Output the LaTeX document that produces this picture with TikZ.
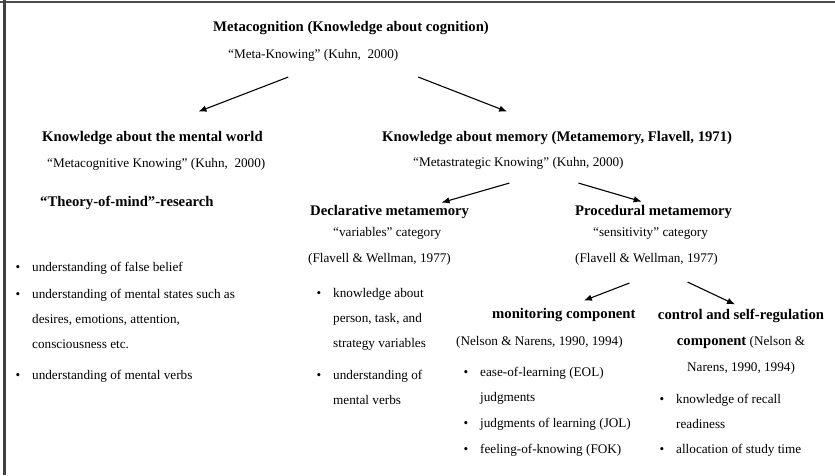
\documentclass[tikz,border=0pt]{standalone}
\usepackage{fontspec}
\setmainfont{Liberation Serif}
\usetikzlibrary{arrows.meta}
\newcommand{\itembul}{\llap{\textbullet\hspace{12pt}}}
\tikzset{
 head/.style={font=\fontsize{14.7}{18}\selectfont\bfseries,anchor=base west,inner sep=0pt},
 txt/.style={font=\fontsize{13.2}{25}\selectfont,anchor=base west,inner sep=0pt,align=left},
 arr/.style={-{Latex[length=8pt,width=6.5pt]},line width=1.1pt}
}
\begin{document}
\begin{tikzpicture}[x=1pt,y=-1pt]
 \useasboundingbox (0,0) rectangle (835,475);
 \draw[line width=2pt,black!70](0,1.7)--(835,1.7);
 \draw[line width=2.5pt,black!75](4.7,0)--(4.7,475);
 \node[head](meta) at (213,31) {Metacognition (Knowledge about cognition)};
 \node[txt](metaknow) at (228,58) {“Meta-Knowing” (Kuhn,~~2000)};
 \node[head](mental) at (42,141) {Knowledge about the mental world};
 \node[txt](metacog) at (47,167) {“Metacognitive Knowing” (Kuhn,~~2000)};
 \node[head](theory) at (40,206) {“Theory-of-mind”-research};
 \node[txt](falsebel) at (32,271) {\itembul understanding of false belief};
 \node[txt](states) at (32,348) {\itembul understanding of mental states such as\\desires, emotions, attention,\\consciousness etc.};
 \node[txt](verbsL) at (32,379) {\itembul understanding of mental verbs};
 \node[head](memory) at (382,141) {Knowledge about memory (Metamemory, Flavell, 1971)};
 \node[txt](metastrat) at (413,166) {“Metastrategic Knowing” (Kuhn, 2000)};
 \node[head](decl) at (310,215) {Declarative metamemory};
 \node[txt](variables) at (333,236) {“variables” category};
 \node[txt](flavellL) at (308,262) {(Flavell \& Wellman, 1977)};
 \node[txt](person) at (333,347) {\itembul knowledge about\\person, task, and\\strategy variables};
 \node[txt](verbsM) at (333,404) {\itembul understanding of\\mental verbs};
 \node[head](proc) at (575,215) {Procedural metamemory};
 \node[txt](sensitivity) at (593,236) {“sensitivity” category};
 \node[txt](flavellR) at (575,262) {(Flavell \& Wellman, 1977)};
 \node[head](monitor) at (492,318) {monitoring component};
 \node[txt](nelsonL) at (456,345) {(Nelson \& Narens, 1990, 1994)};
 \node[txt](eol) at (480,401) {\itembul ease-of-learning (EOL)\\judgments};
 \node[txt](jol) at (480,427) {\itembul judgments of learning (JOL)};
 \node[txt](fok) at (480,453) {\itembul feeling-of-knowing (FOK)};
 \node[txt,anchor=base,align=center,font=\fontsize{13.2}{26}\selectfont](control) at (741,371) {{\fontsize{14.7}{18}\selectfont\bfseries control and self-regulation}\\{\fontsize{14.7}{18}\selectfont\bfseries component} (Nelson \&\\Narens, 1990, 1994)};
 \node[txt](recall) at (676,428) {\itembul knowledge of recall\\readiness};
 \node[txt](alloc) at (676,453) {\itembul allocation of study time};
 \draw[arr]([xshift=-25pt,yshift=-16pt]metaknow.south)--([xshift=46pt,yshift=19pt]mental.north);
 \draw[arr]([xshift=105pt,yshift=-16pt]metaknow.south)--([xshift=-50pt,yshift=19pt]memory.north);
 \draw[arr]([xshift=-9pt,yshift=-14pt]metastrat.south)--([xshift=52pt,yshift=2pt]decl.north);
 \draw[arr]([xshift=60pt,yshift=-14pt]metastrat.south)--([xshift=-12pt,yshift=3pt]proc.north);
 \draw[arr]([xshift=-17pt,yshift=-18pt]flavellR.south)--([xshift=20pt,yshift=7pt]monitor.north);
 \draw[arr]([xshift=41pt,yshift=-17pt]flavellR.south)--([xshift=-6pt,yshift=4pt]control.north);
\end{tikzpicture}
\end{document}
